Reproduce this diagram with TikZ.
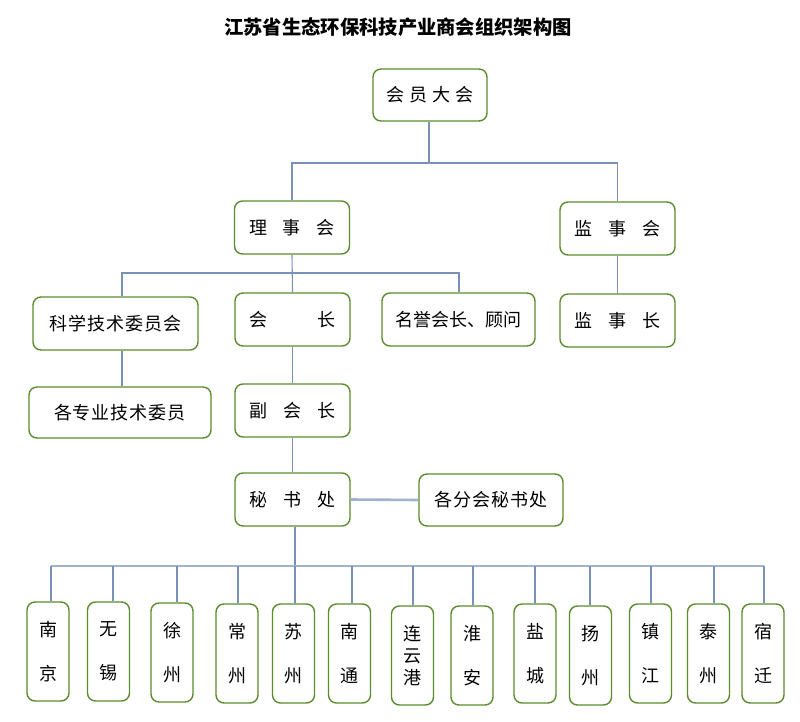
\documentclass[tikz,border=0pt]{standalone}
\usepackage{fontspec}
\setmainfont{Noto Sans CJK SC}
\definecolor{boxgreen}{RGB}{92,140,46}
\definecolor{linkblue}{RGB}{120,145,182}
\definecolor{barblue}{RGB}{160,178,204}
\begin{document}
\begin{tikzpicture}[x=1pt,y=-1pt,
  box/.style={draw=boxgreen,line width=1.4pt,rounded corners=8pt,fill=white,
    inner sep=0pt,align=center,font=\fontsize{18}{22}\selectfont},
  midbox/.style={box,minimum width=115pt,minimum height=53pt},
  cityb/.style={box,minimum width=42pt,minimum height=99pt},
  link/.style={draw=linkblue,line width=1.1pt},
  barline/.style={draw=barblue,line width=2pt},
  sideline/.style={draw=barblue,line width=2.6pt}]
\useasboundingbox (0,0) rectangle (800,722);
\fill[white] (0,0) rectangle (800,722);

\node[font=\fontsize{19.3}{22}\selectfont\bfseries] (title) at (398,27) {江苏省生态环保科技产业商会组织架构图};

\node[midbox,minimum width=114pt,minimum height=52pt] (hy) at (430,95) {会\hspace{5pt}员\hspace{5pt}大\hspace{5pt}会};
\node[midbox] (lsh) at (292,227.5) {理\hspace{16pt}事\hspace{16pt}会};
\node[midbox] (jsh) at (617.5,228.5) {监\hspace{16pt}事\hspace{16pt}会};
\node[midbox] (jsz) at (617.5,320.5) {监\hspace{16pt}事\hspace{16pt}长};
\node[box,minimum width=165pt,minimum height=53pt] (kx) at (115.5,323.5) {科\hspace{1pt}学\hspace{1pt}技\hspace{1pt}术\hspace{1pt}委\hspace{1pt}员\hspace{1pt}会};
\node[box,minimum width=182pt,minimum height=51pt] (gzy) at (120,412.5) {各\hspace{1pt}专\hspace{1pt}业\hspace{1pt}技\hspace{1pt}术\hspace{1pt}委\hspace{1pt}员};
\node[midbox] (hz) at (292.5,319.5) {会\hspace{51pt}长};
\node[box,minimum width=153pt,minimum height=53pt] (my) at (458.5,319.5) {名誉会长、顾问};
\node[midbox] (fhz) at (292.5,410.5) {副\hspace{16pt}会\hspace{16pt}长};
\node[midbox] (msc) at (292.5,499.5) {秘\hspace{16pt}书\hspace{16pt}处};
\node[box,minimum width=144pt,minimum height=52pt] (gfh) at (491,500) {各\hspace{1pt}分\hspace{1pt}会\hspace{1pt}秘\hspace{1pt}书\hspace{1pt}处};

\node[cityb] (c1) at (48,651.5) {南\\[22pt]京};
\node[cityb] (c2) at (108.5,651.5) {无\\[22pt]锡};
\node[cityb] (c3) at (172,652.5) {徐\\[22pt]州};
\node[cityb] (c4) at (237,653.5) {常\\[22pt]州};
\node[cityb] (c5) at (293.5,653.5) {苏\\[22pt]州};
\node[cityb] (c6) at (349.5,653.5) {南\\[22pt]通};
\node[cityb] (c7) at (412.5,655.5) {连\\云\\港};
\node[cityb] (c8) at (472,655.5) {淮\\[22pt]安};
\node[cityb] (c9) at (535,653.5) {盐\\[22pt]城};
\node[cityb] (c10) at (590.5,655.5) {扬\\[22pt]州};
\node[cityb] (c11) at (650.5,653.5) {镇\\[22pt]江};
\node[cityb] (c12) at (708.5,653.5) {泰\\[22pt]州};
\node[cityb] (c13) at (763,653.5) {宿\\[22pt]迁};

% level 1
\coordinate (j1) at (429,163);
\draw[link] (hy.south -| j1) -- (j1);
\draw[link] (lsh.north) -- (lsh.north |- j1) -- (jsh.north |- j1) -- (jsh.north);
\draw[link] (jsh.south) -- (jsz.north);
% level 2
\coordinate (j2) at (292,273);
\draw[link] (lsh.south) -- (hz.north);
\draw[link] (kx.north -| 122,0) -- (122,273) -- (459,273) -- (my.north -| 459,0);
\draw[link] (kx.south -| 122,0) -- (gzy.north -| 122,0);
\draw[link] (hz.south) -- (fhz.north);
\draw[link] (fhz.south) -- (msc.north);
\draw[sideline] (msc.east) -- (gfh.west);
% cities
\coordinate (j3) at (295,566);
\draw[link] (msc.south -| j3) -- (j3);
\draw[barline] (51,566) -- (764,566);
\foreach \n/\x in {c1/51,c2/113,c3/177,c4/238,c5/295,c6/352,c7/413,c8/473,c9/535,c10/590,c11/651,c12/714,c13/764}
  \draw[link] (\x,566) -- (\x,0 |- \n.north);
\end{tikzpicture}
\end{document}
